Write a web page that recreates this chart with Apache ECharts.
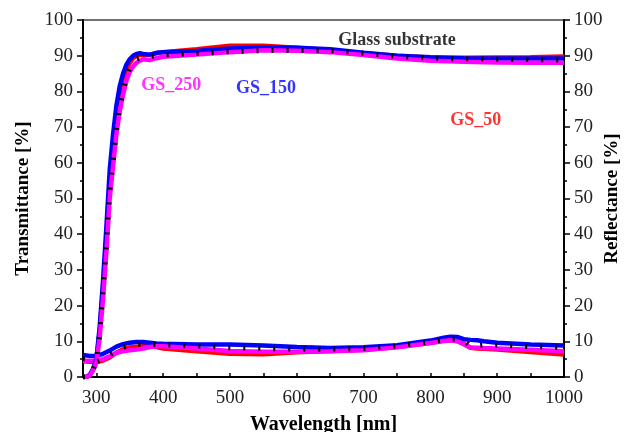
<!DOCTYPE html>
<html>
<head>
<meta charset="utf-8">
<script src="https://cdn.jsdelivr.net/npm/echarts@6/dist/echarts.min.js"></script>
<style>
  html, body { margin: 0; padding: 0; background: #fff; }
  #chart { width: 628px; height: 432px; }
</style>
</head>
<body>
<div id="chart"></div>
<script>
// transmittance, wavelength in nm
var wlT = [280,285,290,295,300,305,310,315,320,325,330,335,340,345,350,355,360,365,370,380,390,400,450,500,550,600,650,700,750,800,850,900,950,1000];
var tGS50  = [0,0,0.5,2,4.5,13,25,39,55,64,72,78,82.5,86,88,89.3,90,90.2,90.2,90.3,90.7,91,91.8,92.8,92.8,92.2,91.6,90.7,90,89.5,89.4,89.5,89.6,89.8];
var tGS150 = [0,0,0.6,2.2,5,14,27,42,58,68,76,81.5,85,87.5,89,90,90.5,90.7,90.5,90.3,90.8,91,91.3,92,92.3,92.2,91.8,90.8,90,89.6,89.3,89.2,89.2,89.2];
var tGS250 = [0,0,0.4,1.8,4,11,22,35,50,59,68,74.5,79,83,85.5,87,88,88.6,89,88.8,89.3,89.7,90.3,91,91.5,91.4,91,90.2,89.2,88.6,88.3,88.1,88,88];
var tGlass = [0,0,0.5,2,4.5,12,24,37,52,60,69,75.5,80,84,86.5,88,89,89.3,89.5,89.8,90,90.2,90.6,91.1,91.4,91.5,91.4,90.7,89.8,89.3,89.1,89,88.9,88.8];

// reflectance
var wlR = [280,290,300,310,320,330,340,350,360,370,380,390,400,450,500,550,600,650,700,750,800,820,830,840,850,860,870,880,900,950,1000];
var rGS50  = [4.4,4.3,4.2,4.6,5.5,6.8,7.8,8.3,8.5,8.6,8.6,8.4,8.0,7.2,6.5,6.4,6.9,7.3,7.6,8.4,9.6,10.2,10.3,10.1,9.3,8.2,8,7.9,7.7,7,6.3];
var rGS150 = [6.2,5.9,5.9,6.5,7.4,8.5,9.2,9.6,9.8,9.8,9.6,9.4,9.3,9.1,9.1,8.8,8.4,8.1,8.3,8.9,10.2,11,11.3,11.2,10.6,10.4,10.3,10,9.6,9.1,8.8];
var rGS250 = [4.6,4.5,4.6,5,5.8,6.8,7.2,7.5,7.7,8,8.4,8.6,8.6,8,7.3,7.1,7.1,7.2,7.5,8.3,9.5,10.1,10.3,10,9.2,8.2,8.2,8.1,8,7.6,7.2];
var rGlass = [5.2,4.8,4.2,5.0,6.2,7.2,8.3,8.8,9.1,9.2,9.2,9.1,9,8.6,8.2,8,7.8,7.8,8,8.7,9.8,10.4,10.6,10.6,10.3,8.6,8.8,9,8.9,8.5,8.3];

var xMajor = [300,400,500,600,700,800,900,1000];
var xMinor = [350,450,550,650,750,850,950];

// text labels in data coords [nm, %]
var notes = [
  { text: 'GS_250', pos: [412, 81.7], color: '#ff00ff' },
  { text: 'GS_150', pos: [554, 80.8], color: '#0000ff' },
  { text: 'GS_50', pos: [868, 71.8], color: '#ff0000' },
  { text: 'Glass substrate', pos: [750, 94.3], color: '#000000' }
];

function zip(xs, ys) {
  return xs.map(function (x, i) { return [x, ys[i]]; });
}

var font = 'Liberation Serif';

function line(name, xs, ys, color, yIdx, dashed) {
  return {
    name: name,
    type: 'line',
    yAxisIndex: yIdx,
    data: zip(xs, ys),
    showSymbol: false,
    symbol: 'none',
    lineStyle: dashed
      ? { color: '#000', width: 5, type: [2, 13] }
      : { color: color, width: 4.5 },
    z: dashed ? 5 : 2
  };
}

var myChart = echarts.init(document.getElementById('chart'));

var series = [
  line('R GS_50', wlR, rGS50, '#ff0000', 1),
  line('R GS_150', wlR, rGS150, '#0000ff', 1),
  line('R GS_250', wlR, rGS250, '#ff00ff', 1),
  line('T GS_50', wlT, tGS50, '#ff0000', 0),
  line('T GS_150', wlT, tGS150, '#0000ff', 0),
  line('T GS_250', wlT, tGS250, '#ff00ff', 0),
  line('R Glass', wlR, rGlass, '#000', 1, true),
  line('T Glass', wlT, tGlass, '#000', 0, true)
];

// annotations
series.push({
  type: 'scatter',
  yAxisIndex: 0,
  symbolSize: 0,
  data: notes.map(function (n) {
    return {
      value: n.pos,
      label: {
        show: true,
        position: 'inside',
        formatter: n.text,
        color: n.color,
        fontFamily: font,
        fontWeight: 'bold',
        fontSize: 18
      }
    };
  }),
  z: 10
});

var yBase = {
  type: 'value',
  min: 0,
  max: 100,
  interval: 10,
  nameLocation: 'middle',
  nameRotate: 90,
  nameTextStyle: { fontFamily: font, fontWeight: 'bold', fontSize: 19, color: '#000' },
  axisLine: { show: true, lineStyle: { color: '#000', width: 2 } },
  axisTick: { show: true, inside: false, length: 6, lineStyle: { color: '#000', width: 1.5 } },
  minorTick: { show: true, splitNumber: 2, length: 3, lineStyle: { color: '#000', width: 1.5 } },
  axisLabel: { fontFamily: font, fontSize: 19, color: '#222', margin: 10 },
  splitLine: { show: false }
};

myChart.setOption({
  animation: false,
  backgroundColor: '#fff',
  grid: {
    left: 83,
    right: 64,
    top: 20,
    bottom: 55,
    outerBoundsMode: 'none',
    show: true,
    borderColor: '#444',
    borderWidth: 1.5
  },
  xAxis: [
    {
      type: 'value',
      min: 280,
      max: 1000,
      name: 'Wavelength [nm]',
      nameLocation: 'middle',
      nameGap: 38,
      nameTextStyle: { fontFamily: font, fontWeight: 'bold', fontSize: 20, color: '#000' },
      axisLine: { show: true, onZero: false, lineStyle: { color: '#000', width: 2 } },
      axisTick: { show: true, inside: true, length: 4, customValues: xMajor, lineStyle: { color: '#000', width: 1.5 } },
      axisLabel: {
        customValues: xMajor,
        fontFamily: font, fontSize: 19, color: '#222', margin: 12,
        formatter: function (v) { return String(v); }
      },
      splitLine: { show: false }
    },
    {
      type: 'value',
      min: 280,
      max: 1000,
      position: 'bottom',
      axisLine: { show: false },
      axisTick: { show: true, inside: true, length: 4, customValues: xMinor, lineStyle: { color: '#000', width: 1.5 } },
      axisLabel: { show: false },
      splitLine: { show: false }
    }
  ],
  yAxis: [
    Object.assign({}, yBase, { position: 'left', name: 'Transmittance [%]', nameGap: 50 }),
    Object.assign({}, yBase, { position: 'right', name: 'Reflectance [%]', nameGap: 39, nameMoveOverlap: false })
  ],
  series: series
});
</script>
</body>
</html>
